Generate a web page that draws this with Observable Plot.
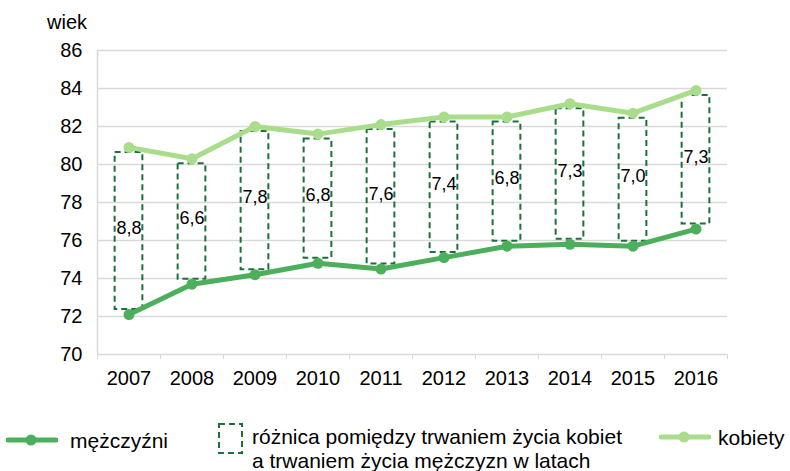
<!DOCTYPE html>
<html>
<head>
<meta charset="utf-8">
<script src="https://cdn.jsdelivr.net/npm/d3@7"></script>
<script src="https://cdn.jsdelivr.net/npm/@observablehq/plot@0.6"></script>
<style>
  body { margin: 0; background: #fff; font-family: "Liberation Sans", Arial, sans-serif; }
  #wrap { position: relative; width: 790px; height: 471px; overflow: hidden; }
  #chart { position: absolute; left: 0; top: 0; }
  [aria-label^="x-axis"] { color: #d9d9d9; }
  [aria-label^="y-axis"] text { font-size: 20px; }
  .lab { position: absolute; font-size: 21px; color: #000; white-space: nowrap; line-height: 24px; }
  .ico { position: absolute; }
</style>
</head>
<body>
<div id="wrap">
  <div id="chart"></div>
  <div class="lab" style="left:47px; top:10px; font-size:20px;">wiek</div>

  <svg class="ico" style="left:6px; top:432px;" width="52" height="16">
    <line x1="2" y1="8" x2="50" y2="8" stroke="#4caf5c" stroke-width="5" stroke-linecap="round"/>
    <circle cx="25" cy="8" r="5.5" fill="#4caf5c"/>
  </svg>
  <div class="lab" style="left:70px; top:429px;">mężczyźni</div>

  <svg class="ico" style="left:216px; top:421px;" width="30" height="36">
    <rect x="3" y="3" width="23" height="29" fill="none" stroke="#1d6f3d" stroke-width="2" stroke-dasharray="6,4"/>
  </svg>
  <div class="lab" style="left:252px; top:425px;">różnica pomiędzy trwaniem życia kobiet</div>
  <div class="lab" style="left:252px; top:449px;">a trwaniem życia mężczyzn w latach</div>

  <svg class="ico" style="left:659px; top:429px;" width="52" height="16">
    <line x1="2" y1="8" x2="50" y2="8" stroke="#a9dd8b" stroke-width="5" stroke-linecap="round"/>
    <circle cx="25" cy="8" r="5.5" fill="#a9dd8b"/>
  </svg>
  <div class="lab" style="left:718px; top:426px;">kobiety</div>
</div>
<script>
const years = [2007, 2008, 2009, 2010, 2011, 2012, 2013, 2014, 2015, 2016];
const men   = [72.1, 73.7, 74.2, 74.8, 74.5, 75.1, 75.7, 75.8, 75.7, 76.6];
const women = [80.9, 80.3, 82.0, 81.6, 82.1, 82.5, 82.5, 83.2, 82.7, 83.9];
const diffLabels = ["8,8", "6,6", "7,8", "6,8", "7,6", "7,4", "6,8", "7,3", "7,0", "7,3"];
const yTicks = [70, 72, 74, 76, 78, 80, 82, 84, 86];

const data = years.map((year, i) => ({year, men: men[i], women: women[i], label: diffLabels[i]}));
const bounds = years.map(y => y - 0.5).concat([years[years.length - 1] + 0.5]);
const half = 0.22;

const chart = Plot.plot({
  width: 790,
  height: 400,
  marginLeft: 97,
  marginRight: 63,
  marginTop: 50,
  marginBottom: 46,
  style: {fontFamily: "'Liberation Sans', Arial, sans-serif", fontSize: "20px", background: "transparent"},
  x: {domain: [bounds[0], bounds[bounds.length - 1]], ticks: bounds, tickSize: 5, tickFormat: () => "", label: null},
  y: {domain: [70, 86], ticks: yTicks, tickSize: 0, tickPadding: 15, label: null},
  marks: [
    Plot.ruleY(yTicks, {stroke: "#d9d9d9", strokeWidth: 1.5}),
    Plot.ruleX([bounds[0]], {y1: 70, y2: 86, stroke: "#d9d9d9", strokeWidth: 1.5}),
    Plot.rectY(data, {
      x1: d => d.year - half, x2: d => d.year + half,
      y1: "men", y2: "women",
      insetTop: 5, insetBottom: 5,
      fill: "none", stroke: "#1d6f3d", strokeWidth: 2, strokeDasharray: "6,4"
    }),
    Plot.text(data, {
      x: "year", y: d => (d.men + d.women) / 2, text: "label",
      dy: -3, fontSize: 18, fill: "#000"
    }),
    Plot.line(data, {x: "year", y: "women", stroke: "#a9dd8b", strokeWidth: 5}),
    Plot.dot(data, {x: "year", y: "women", r: 5.5, fill: "#a9dd8b"}),
    Plot.line(data, {x: "year", y: "men", stroke: "#4caf5c", strokeWidth: 5}),
    Plot.dot(data, {x: "year", y: "men", r: 5.5, fill: "#4caf5c"}),
    Plot.text(years, {x: d => d, y: () => 70, text: d => String(d), dy: 24, fontSize: 20, fill: "#000"})
  ]
});
document.getElementById("chart").appendChild(chart);
</script>
</body>
</html>
